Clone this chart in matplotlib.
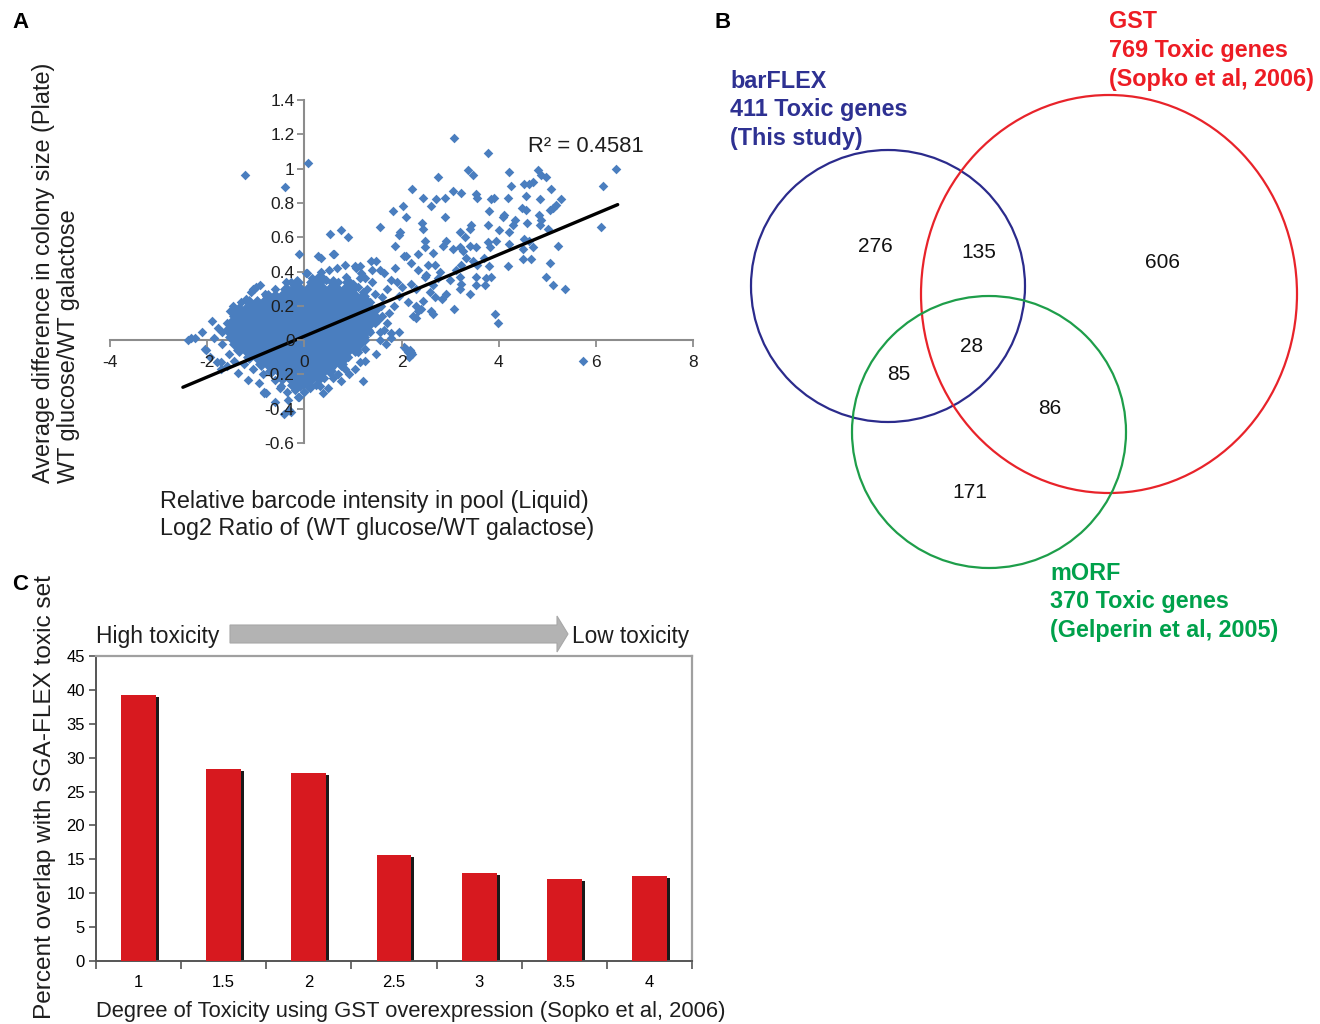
import matplotlib
matplotlib.use("Agg")
import matplotlib.pyplot as plt
from matplotlib.patches import Ellipse, FancyArrow
from matplotlib import font_manager

# ---------------- DATA ----------------
# Panel A: dense core of the scatter, rows of (y, [x values])
core_rows = [
    (0.34, [-0.15, 0.15, 0.30, 0.60, 0.90]),
    (0.30, [-0.38, -0.23, -0.08, 0.08, 0.23, 0.38, 0.53, 0.68, 0.83, 0.98]),
    (0.26, [-0.75, -0.60, -0.45, -0.30, -0.15, 0.00, 0.15, 0.30, 0.45, 0.60, 0.75, 0.90, 1.05, 1.20]),
    (0.22, [-1.13, -0.98, -0.83, -0.68, -0.53, -0.38, -0.23, -0.08, 0.08, 0.23, 0.38, 0.53, 0.68, 0.83, 0.98, 1.13, 1.28]),
    (0.18, [-1.35, -1.20, -1.05, -0.90, -0.75, -0.60, -0.45, -0.30, -0.15, 0.00, 0.15, 0.30, 0.45, 0.60, 0.75, 0.90, 1.05, 1.20, 1.35]),
    (0.14, [-1.43, -1.28, -1.13, -0.98, -0.83, -0.68, -0.53, -0.38, -0.23, -0.08, 0.08, 0.23, 0.38, 0.53, 0.68, 0.83, 0.98, 1.13, 1.28, 1.43]),
    (0.10, [-1.50, -1.35, -1.20, -1.05, -0.90, -0.75, -0.60, -0.45, -0.30, -0.15, 0.00, 0.15, 0.30, 0.45, 0.60, 0.75, 0.90, 1.05, 1.20, 1.35]),
    (0.06, [-1.58, -1.43, -1.28, -1.13, -0.98, -0.83, -0.68, -0.53, -0.38, -0.23, -0.08, 0.08, 0.23, 0.38, 0.53, 0.68, 0.83, 0.98, 1.13, 1.28]),
    (0.02, [-1.50, -1.35, -1.20, -1.05, -0.90, -0.75, -0.60, -0.45, -0.30, -0.15, 0.00, 0.15, 0.30, 0.45, 0.60, 0.75, 0.90, 1.05, 1.20]),
    (-0.02, [-1.43, -1.28, -1.13, -0.98, -0.83, -0.68, -0.53, -0.38, -0.23, -0.08, 0.08, 0.23, 0.38, 0.53, 0.68, 0.83, 0.98, 1.13]),
    (-0.06, [-1.35, -1.20, -1.05, -0.90, -0.75, -0.60, -0.45, -0.30, -0.15, 0.00, 0.15, 0.30, 0.45, 0.60, 0.75, 0.90, 1.05]),
    (-0.10, [-1.13, -0.98, -0.83, -0.68, -0.53, -0.38, -0.23, -0.08, 0.08, 0.23, 0.38, 0.53, 0.68, 0.83]),
    (-0.14, [-0.90, -0.75, -0.60, -0.45, -0.30, -0.15, 0.00, 0.15, 0.30, 0.45, 0.60, 0.75]),
    (-0.18, [-0.68, -0.53, -0.38, -0.23, -0.08, 0.08, 0.23, 0.38, 0.53]),
    (-0.22, [-0.45, -0.30, -0.15, 0.00, 0.15, 0.30]),
    (-0.26, [-0.23, -0.08, 0.08]),
]

# Panel A: individually read points (x, y)
scatter_points = [
    (-1.23, 0.96), (-0.39, 0.89), (0.08, 1.03), (3.09, 1.18), (3.78, 1.09), (6.42, 1.00), (6.15, 0.90), (6.11, 0.66),
    (4.81, 0.99), (4.22, 0.98), (3.37, 0.99), (3.47, 0.96), (2.75, 0.95), (2.22, 0.88), (3.07, 0.87), (3.22, 0.86),
    (4.26, 0.90), (4.53, 0.91), (4.62, 0.91), (4.70, 0.92), (4.88, 0.96), (4.98, 0.95), (5.08, 0.88), (5.29, 0.82),
    (5.19, 0.79), (5.12, 0.77), (5.05, 0.76), (4.86, 0.82), (4.57, 0.84), (4.47, 0.77), (4.57, 0.76), (4.84, 0.73),
    (4.87, 0.70), (4.86, 0.67), (4.58, 0.68), (4.33, 0.70), (4.30, 0.67), (4.22, 0.63), (4.09, 0.72), (4.12, 0.73),
    (4.19, 0.83), (3.85, 0.82), (3.91, 0.83), (3.81, 0.75), (3.78, 0.67), (3.54, 0.85), (3.56, 0.83), (3.44, 0.67),
    (3.42, 0.65), (3.30, 0.60), (3.20, 0.63), (2.89, 0.83), (2.72, 0.82), (2.61, 0.78), (2.44, 0.83), (2.10, 0.72),
    (2.03, 0.78), (2.42, 0.68), (2.44, 0.65), (2.89, 0.72), (2.48, 0.58), (2.34, 0.50), (2.49, 0.54), (2.65, 0.51),
    (2.85, 0.55), (2.92, 0.58), (3.06, 0.53), (3.20, 0.54), (3.27, 0.52), (3.42, 0.55), (3.54, 0.54), (3.78, 0.57),
    (3.83, 0.54), (3.94, 0.58), (4.01, 0.64), (4.22, 0.56), (4.53, 0.59), (4.63, 0.58), (4.50, 0.53), (4.70, 0.54),
    (5.01, 0.65), (5.22, 0.55), (5.05, 0.45), (4.98, 0.37), (5.12, 0.32), (5.36, 0.30), (4.50, 0.47), (4.67, 0.47),
    (4.19, 0.43), (3.81, 0.43), (3.85, 0.37), (3.55, 0.44), (3.69, 0.48), (3.47, 0.46), (3.33, 0.48), (3.23, 0.44),
    (3.13, 0.41), (2.79, 0.40), (2.68, 0.44), (2.55, 0.44), (2.10, 0.49), (2.48, 0.37), (3.20, 0.37), (3.54, 0.37),
    (3.74, 0.36), (3.92, 0.15), (3.99, 0.10), (5.73, -0.12), (3.54, 0.32), (3.71, 0.32), (3.40, 0.27), (3.21, 0.30),
    (3.22, 0.33), (3.09, 0.18), (2.91, 0.27), (2.84, 0.24), (2.68, 0.25), (2.58, 0.28), (2.44, 0.23), (2.60, 0.17),
    (2.64, 0.15), (2.30, 0.20), (2.33, 0.17), (2.40, 0.18), (2.24, 0.14), (2.30, 0.13), (2.14, 0.22), (2.10, -0.05),
    (2.17, -0.06), (2.19, -0.07), (2.21, -0.08), (3.00, 0.35),
    (-0.10, 0.50), (0.52, 0.62), (0.76, 0.64), (0.90, 0.60), (0.62, 0.50), (0.28, 0.49), (0.35, 0.48), (0.50, 0.41),
    (0.83, 0.44), (0.67, 0.42), (1.55, 0.66), (1.82, 0.75), (1.87, 0.55), (1.94, 0.61), (1.97, 0.63), (1.48, 0.46),
    (1.04, 0.43), (1.07, 0.42), (1.14, 0.43), (1.16, 0.39), (1.40, 0.41), (1.55, 0.41), (1.86, 0.42), (0.06, 0.39),
    (-0.37, 0.34), (-0.21, 0.33), (0.37, 0.37), (0.30, 0.37), (-0.92, 0.32), (-1.05, 0.30),
    (-2.33, 0.01), (-2.26, 0.01), (-2.40, 0.00), (-2.02, -0.06), (-1.71, -0.17), (-1.47, 0.20), (-1.54, 0.17),
    (-0.99, 0.31), (-1.09, 0.28), (0.38, -0.31), (1.21, -0.24), (-0.34, -0.35), (-0.27, -0.42), (-0.12, -0.33),
    (-0.83, -0.30), (-0.78, -0.31), (-0.47, -0.27), (1.79, 0.04), (1.69, -0.02), (1.48, -0.08), (1.25, -0.12),
    (1.04, -0.17), (0.92, -0.20), (0.76, -0.24), (0.48, -0.28), (0.33, -0.27), (0.60, -0.22), (1.58, 0.20), (1.75, 0.16),
    (-1.50, 0.17), (-1.03, 0.30), (-0.75, 0.19), (-0.27, 0.34), (0.04, 0.39), (0.28, 0.37), (0.35, 0.40),
    (0.59, 0.50), (1.24, 0.36), (1.38, 0.46), (1.65, 0.39), (1.79, 0.35), (1.90, 0.34), (2.06, 0.49), (2.20, 0.45),
    (2.34, 0.41), (2.50, 0.38), (1.52, 0.12), (1.65, 0.06), (1.60, 0.25), (1.79, 0.01), (1.55, 0.00), (1.24, -0.05),
    (1.14, -0.13), (0.83, -0.17), (0.70, -0.20), (0.25, -0.26), (2.06, -0.04), (2.13, -0.07), (2.16, -0.10),
    (-1.71, -0.13), (-1.60, -0.15), (-1.36, -0.19), (-1.16, -0.23), (-0.93, -0.25), (-0.82, -0.31), (-0.61, -0.36),
    (-0.41, -0.43), (-0.31, -0.41), (-0.13, -0.33), (-2.05, -0.05), (-1.85, 0.01), (-1.78, 0.07), (-1.70, 0.05),
    (-1.36, 0.10), (0.15, 0.36), (0.45, 0.35), (0.70, 0.34), (0.85, 0.37), (1.00, 0.33), (1.10, 0.31), (1.20, 0.28),
    (1.30, 0.30), (1.45, 0.27), (1.35, 0.22), (1.50, 0.18), (1.60, 0.14), (1.45, 0.10), (1.55, 0.05), (1.70, 0.10),
    (1.85, 0.20), (1.95, 0.26), (2.00, 0.31), (1.70, 0.30), (1.40, 0.34), (1.15, 0.36), (-0.60, 0.30), (-0.80, 0.27),
    (-1.20, 0.24), (-1.30, 0.22), (-1.60, 0.10), (-1.70, -0.02), (-1.55, -0.08), (-1.45, -0.12), (-1.25, -0.14),
    (-1.05, -0.17), (-0.85, -0.20), (-0.60, -0.23), (-0.50, -0.28), (-0.35, -0.30), (-0.20, -0.29), (0.00, -0.30),
    (0.12, -0.28), (0.40, -0.22), (0.55, -0.16), (0.90, -0.10), (1.10, -0.07), (1.25, 0.00), (1.35, 0.05),
    (-1.90, 0.11), (-2.10, 0.05), (-1.95, -0.10), (-1.80, -0.13), (1.95, 0.05), (2.30, 0.30), (2.20, 0.33),
    (2.65, 0.32), (2.75, 0.36),
]

trend_x = [-2.5, 6.45]
trend_y = [-0.275, 0.79]
r2_text = "R² = 0.4581"

a_xticks = [-4, -2, 0, 2, 4, 6, 8]
a_xticklabels = ["-4", "-2", "0", "2", "4", "6", "8"]
a_yticks = [-0.6, -0.4, -0.2, 0, 0.2, 0.4, 0.6, 0.8, 1.0, 1.2, 1.4]
a_yticklabels = ["-0.6", "-0.4", "-0.2", "0", "0.2", "0.4", "0.6", "0.8", "1", "1.2", "1.4"]

# Panel B: Venn region counts
venn_sets = ["barFLEX", "GST", "mORF"]
venn_totals = [411, 769, 370]
venn_sources = ["(This study)", "(Sopko et al, 2006)", "(Gelperin et al, 2005)"]
venn_counts = {"barFLEX only": 276, "barFLEX&GST": 135, "GST only": 606, "all": 28,
               "barFLEX&mORF": 85, "GST&mORF": 86, "mORF only": 171}

# Panel C: bars
c_categories = ["1", "1.5", "2", "2.5", "3", "3.5", "4"]
c_values = [39.2, 28.4, 27.8, 15.6, 13.05, 12.07, 12.5]
c_yticks = [0, 5, 10, 15, 20, 25, 30, 35, 40, 45]

# ---------------- LAYOUT / STYLE ----------------
W, H = 1320, 1024
names = {f.name for f in font_manager.fontManager.ttflist}
SANS = "Liberation Sans" if "Liberation Sans" in names else "DejaVu Sans"
NARROW = "Liberation Sans Narrow" if "Liberation Sans Narrow" in names else SANS
plt.rcParams["font.family"] = [SANS, "DejaVu Sans"]

BLUE_PT = "#4a7ebf"
AXGRAY = "#8c8c8c"
NAVY = "#2e3192"
RED = "#ed1c24"
GREEN = "#00a14b"
TXT = "#1e1e1e"

fig = plt.figure(figsize=(W / 100, H / 100), dpi=100)

def fx(px):
    return px / W

def fy(py):
    return 1 - py / H

# ---------- Panel A ----------
axA = fig.add_axes([fx(110), fy(443), fx(693) - fx(110), fy(100) - fy(443)])
cx_, cy_ = [], []
for yv, xl in core_rows:
    for xv in xl:
        cx_.append(xv)
        cy_.append(yv)
axA.scatter(cx_, cy_, marker="D", s=44, color=BLUE_PT, linewidths=0, zorder=2)
axA.scatter([p[0] for p in scatter_points], [p[1] for p in scatter_points], marker="D", s=24,
            color=BLUE_PT, linewidths=0, zorder=2)
axA.plot(trend_x, trend_y, color="black", lw=2.4, zorder=3, solid_capstyle="round")
axA.set_xlim(-4, 8)
axA.set_ylim(-0.6, 1.4)
for s in ["top", "right"]:
    axA.spines[s].set_visible(False)
axA.spines["left"].set_position(("data", 0))
axA.spines["bottom"].set_position(("data", 0))
for s in ["left", "bottom"]:
    axA.spines[s].set_color(AXGRAY)
    axA.spines[s].set_linewidth(1.5)
    axA.spines[s].set_zorder(1)
axA.xaxis.set_zorder(4)
axA.yaxis.set_zorder(4)
axA.set_xticks(a_xticks)
axA.set_xticklabels(a_xticklabels)
axA.set_yticks(a_yticks)
axA.set_yticklabels(a_yticklabels)
axA.tick_params(axis="both", direction="out", length=5, width=1.3, color=AXGRAY,
                labelsize=12.5, labelcolor=TXT)
axA.tick_params(axis="x", pad=6)
axA.tick_params(axis="y", pad=2)
axA.set_facecolor("none")
axA.text(4.6, 1.13, r2_text, fontsize=15.8, color=TXT, ha="left", va="center")

# ---------- overlay (pixel coords) ----------
ov2 = fig.add_axes([0, 0, 1, 1], zorder=5)
ov2.set_xlim(0, W)
ov2.set_ylim(H, 0)
ov2.axis("off")
ov2.patch.set_alpha(0)

# panel letters
for lab, (px, py) in zip(["A", "B", "C"], [(12, 22), (714, 22), (12, 585)]):
    ov2.text(px, py, lab, fontsize=16, fontweight="bold", ha="left", va="center")

ov2.text(56, 483, "Average difference in colony size (Plate)\nWT glucose/WT galactose",
         rotation=90, ha="center", va="bottom", multialignment="left",
         fontsize=16.9, color=TXT, linespacing=1.15)
ov2.text(160, 515, "Relative barcode intensity in pool (Liquid)\nLog2 Ratio of (WT glucose/WT galactose)",
         ha="left", va="center", fontsize=16.8, color=TXT, linespacing=1.22)

# ---------- Panel B : Venn ----------
venn_geom = {"barFLEX": (888, 286, 137, 136), "GST": (1109, 294, 188, 199), "mORF": (989, 432, 137, 136)}
venn_colors = {"barFLEX": "#2b2b8c", "GST": "#e8232a", "mORF": "#1e9e4a"}
for name in venn_sets:
    cxv, cyv, rx, ry = venn_geom[name]
    ov2.add_patch(Ellipse((cxv, cyv), 2 * rx, 2 * ry, fill=False,
                          edgecolor=venn_colors[name], lw=1.6))
count_pos = {"barFLEX only": (875, 246), "barFLEX&GST": (979, 252), "GST only": (1163, 263),
             "all": (972, 346), "barFLEX&mORF": (899, 374), "GST&mORF": (1050, 408), "mORF only": (970, 493)}
for k, v in venn_counts.items():
    px, py = count_pos[k]
    ov2.text(px, py, str(v), fontsize=15, ha="center", va="center", color="#111111")
label_pos = {"barFLEX": (730, 81), "GST": (1109, 22), "mORF": (1050, 573)}
text_colors = {"barFLEX": NAVY, "GST": RED, "mORF": GREEN}
for name, tot, src in zip(venn_sets, venn_totals, venn_sources):
    px, py = label_pos[name]
    for i, line in enumerate([name, f"{tot} Toxic genes", src]):
        ov2.text(px, py + i * 28.7, line, fontsize=16.8, fontweight="bold",
                 color=text_colors[name], ha="left", va="center")

# ---------- Panel C ----------
axC = fig.add_axes([fx(96), fy(961), fx(692) - fx(96), fy(656) - fy(961)])
pos = list(range(len(c_values)))
bw = 0.41
axC.bar([p + 0.035 for p in pos], [v - 0.3 for v in c_values], width=bw, color="#1a1a1a", zorder=2)
axC.bar(pos, c_values, width=bw, color="#d7191f", zorder=3, linewidth=0.0)
axC.set_xlim(-0.5, len(c_values) - 0.5)
axC.set_ylim(0, 45)
axC.set_yticks(c_yticks)
axC.set_yticklabels([str(t) for t in c_yticks], fontfamily=[NARROW, SANS], fontsize=12)
axC.set_xticks([p - 0.5 for p in range(len(c_values) + 1)])
axC.set_xticklabels([])
axC.set_xticks(pos, minor=True)
axC.set_xticklabels(c_categories, minor=True, fontfamily=[NARROW, SANS], fontsize=12)
axC.tick_params(axis="x", which="major", direction="out", length=6, width=1.2, color="#555555")
axC.tick_params(axis="x", which="minor", length=0, pad=10)
axC.tick_params(axis="y", direction="out", length=5, width=1.2, color="#555555", pad=3)
for s in ["left", "bottom"]:
    axC.spines[s].set_color("#555555")
    axC.spines[s].set_linewidth(1.4)
for s in ["top", "right"]:
    axC.spines[s].set_color("#a0a0a0")
    axC.spines[s].set_linewidth(1.6)

ov2.text(45, 797, "Percent overlap with SGA-FLEX toxic set", rotation=90, ha="center", va="center",
         fontsize=17.6, color=TXT)
ov2.text(96, 1012, "Degree of Toxicity using GST overexpression (Sopko et al, 2006)", ha="left",
         va="center", fontsize=15.8, color=TXT, fontfamily=[NARROW, SANS])
ov2.text(96, 636, "High toxicity", ha="left", va="center", fontsize=16.5, color=TXT,
         fontfamily=[NARROW, SANS])
ov2.text(572, 636, "Low toxicity", ha="left", va="center", fontsize=16.3, color=TXT,
         fontfamily=[NARROW, SANS])
ov2.add_patch(FancyArrow(230, 634, 338, 0, width=18, head_width=36, head_length=11,
                         length_includes_head=True, facecolor="#b3b3b3", edgecolor="#a8a8a8", lw=0.8))

fig.savefig("out.png", dpi=100)
